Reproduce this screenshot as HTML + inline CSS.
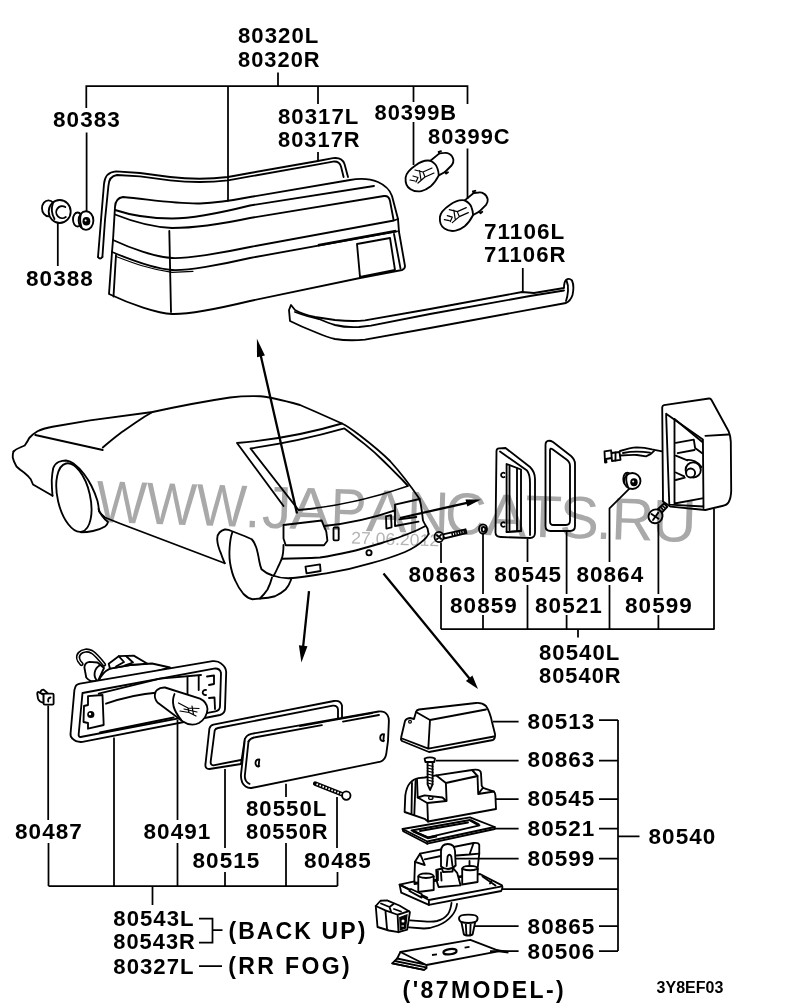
<!DOCTYPE html>
<html>
<head>
<meta charset="utf-8">
<title>Parts diagram 3Y8EF03</title>
<style>
html,body{margin:0;padding:0;background:#fff;}
body{width:800px;height:1008px;overflow:hidden;font-family:"Liberation Sans",sans-serif;}
svg{display:block;font-family:"Liberation Sans",sans-serif;}
.t{font-size:22.5px;font-weight:bold;letter-spacing:1.05px;fill:#000;}
.tb{font-size:23px;font-weight:bold;letter-spacing:2.1px;fill:#000;}
.ld{stroke:#000;stroke-width:1.75;fill:none;stroke-linecap:butt;}
.p{stroke:#000;stroke-width:1.85;fill:none;stroke-linecap:round;stroke-linejoin:round;}
.pw{stroke:#000;stroke-width:1.85;fill:#fff;stroke-linecap:round;stroke-linejoin:round;}
.c{stroke:#000;stroke-width:1.85;fill:none;stroke-linecap:round;stroke-linejoin:round;}
.cw{stroke:#000;stroke-width:1.5;fill:#fff;stroke-linecap:round;stroke-linejoin:round;}
.th{stroke:#000;stroke-width:1.2;fill:none;stroke-linecap:round;stroke-linejoin:round;}
.k{fill:#000;stroke:none;}
</style>
</head>
<body>
<svg width="800" height="1008" viewBox="0 0 800 1008">
<rect x="0" y="0" width="800" height="1008" fill="#fff"/>


<!-- CAR -->
<g id="car">
<!-- front wheel -->
<path class="c" d="M98.6,509 C99.5,513 104,519 108,522 C107.5,524 106.5,525.5 105,526.5 C101,529 97,530.3 93,531 C89,531.8 85,532.2 81,532.2"/>
<ellipse class="c" cx="73.9" cy="497.6" rx="16.2" ry="35" transform="rotate(-13 73.9 497.6)"/>
<!-- rear wheel -->
<path class="c" d="M232.25,532.5 C229.5,540 228.8,555 230,562.5 C231.5,572 233,576 235.25,580.5 C238,587 241,591 243.5,594 C246.5,597 249.5,598.7 252.5,599.25 L260,598.5 C263,595.5 265.5,592.5 267.5,589.5 C269.5,585.5 271,581.5 272,577.5"/>
<path class="c" d="M260,598.5 C265,598.3 270,597.8 275,596.25 C279,594.5 282.5,592.2 285.5,589.5 C287.8,587 289.5,584 290.75,580.5 L291.5,578.25"/>
<!-- top silhouette -->
<path class="c" d="M13.5,451.5 C15.5,449.5 17.5,448.5 19.5,447.75 L24.75,445.5 C26.5,443 28,440.5 29.25,438 C32,435 34.5,433 37.5,431.25 C42,429 47,427.8 52.5,426.75 L90,420.3 L152.5,412 C180,406 210,400.5 230,397.5 C242,396 252,396 260,396.25 C270,396.8 282,400 300,405 L315,411.5 L342,423.5 C349,427 354,431 360,435.5 C371,444 381,452 390,461 C400,472 410,485 419.6,499 C421.5,506 422,513 423,520.5 C424.5,524 426.5,526.5 427.5,528.4 L428.6,534"/>
<path class="c" d="M35.25,435 L102.75,450 M102.75,447.5 C108,443 114,438 120,433.5 C125,430 132,425 138,421 C143,417.5 148,414.5 152.5,412"/>
<path class="c" d="M13.5,451.5 C12.7,453.5 12.5,455.5 12.75,457.5 C13.5,461 15,464 16.5,466.5 C19,469 21.5,470.8 24,472.5 C26.5,474.5 29,476.8 30.75,479.25 L33,484.5 L52.5,495.75"/>
<path class="c" d="M52.5,495.75 C52,490 51.7,485 51.75,480 C52,475.5 52.5,471.5 53.25,468 C54.5,465 56.3,463 58.5,462 C61,461 63.5,460.5 66,460.5 C69,461 71.5,462 73.5,463.5 C77.5,466.5 81,470 84,474 C87,478 89.5,482 91.5,486 C94,491 96,496 97.5,501 C98.3,504.5 98.8,508 99,511.5 C101,513.8 103,515.8 105,517.5 L120,523.5 L224.75,563.25"/>
<path class="c" d="M224.75,563.25 C223.5,560 222,557 221,553.5 C219,549 217.5,544.5 217.25,540 C217,536.5 218,534 219.5,532.5 C221,531 223,530 224.75,529.5 C227,529.3 229.5,530 231.5,531 L245,536.25 L251.75,539.25 C254,541.5 255.2,544.5 256.25,547.5 C257.7,552 258.5,556.5 259.25,561 C259.8,564 260.5,567 261.5,569.25 C264.5,572 268,574 272,575.25 C278,577.5 284,578.5 290,578.25"/>
<!-- hatch / glass -->
<path class="c" d="M342,423.5 Q290.5,438.8 237,443 L283.5,506"/>
<path class="c" d="M344.4,428.4 Q297,441.8 250.5,448.4 L298.5,510 Q352,505.5 408,486 L402.5,480 C396,473.5 390,467.5 383.75,461.25 C378,455.5 372,450 365,444.4 C357,438 350,432.5 344.4,428.4 Z"/>
<path class="c" d="M324,526 Q360,522.5 395,510.4"/>
<!-- left tail lamp -->
<path class="c" d="M283.5,525 L321.7,520.5 L326.3,531.7 L327.4,540.7 L324,545.2 L285.7,545.2 L283.5,538.5 Z"/>
<path class="c" d="M283.5,545 C283.5,551 283,555 281.75,558.75 C280.5,561.5 279.3,564.3 278,567 C276.5,570.5 275,573.5 273.5,576"/>
<!-- license lamps -->
<rect class="c" x="333.5" y="527.5" width="5.2" height="12.8" rx="1"/>
<path class="c" d="M386,516.3 L391,515.2 L391.6,527.4 L386.4,528.6 Z"/>
<!-- right tail lamp -->
<path class="c" d="M395,504.7 L419.6,499 M395,504.7 L395,526 L418.5,521.6 M399.4,519.4 L416.3,517"/>
<!-- bumper -->
<path class="c" d="M281.75,558.75 C295,558.6 308,558.2 320,557.5 C330,556 340,554 350,551.75 C360,549.5 370,546.5 380,543.5 C388,541 396,538.5 402.5,536 C408,534 413,532 417.5,530 L425,526.25"/>
<path class="c" d="M290,578.25 C304,577 315,575 326.3,573.4 C342,571 357,567.5 371.3,563.2 C383,560 394,556.5 405,552 C412,549 418,545.5 423,540.7 C425.5,538.5 427.5,536.5 428.6,534"/>
<path class="c" d="M305.5,566.6 L320,564.4 L320.6,571 L306.5,573.4 Z"/>
<circle class="c" cx="369" cy="552.7" r="2.6"/>
</g>

<!-- TOP LAMP -->
<g id="toplamp">
<!-- gasket 80317 -->
<path class="p" d="M98,257 L101,220 L104,184 Q105,172 116,171.3 L140,173 L170,177 Q200,180.5 228,177 L250,173 L318,161 L333,158.2 Q342,157 344.5,164 L348,177"/>
<path class="p" d="M102.4,257 L105,220 L108.4,186 Q109,176 117,175 L140,176.4 L170,180.3 Q200,183.7 228,180.3 L250,176.4 L318,164.4 L333,161.6 Q339.5,161 341,166.5 L343.6,177"/>
<path class="p" d="M98,257 Q100,260 102.4,257"/>
<!-- lamp body -->
<path class="pw" d="M113,240 L115,207 Q115.5,198 123,197 C150,199.5 175,204 200,203.5 C215,203 232,200.5 250,197 L350,180 Q366,177 378,182 Q389,187 392,196 L398,219 L399,232 L405,266 Q405,269 402,270 L360,278 L250,301 C225,307 190,314.6 172,314 C158,313.5 130,304 109,294 L112,252 Z"/>
<path class="p" d="M115,210 C130,215 150,218.5 172,218.5 C195,218.5 222,212.5 250,205.5 L374,186"/>
<path class="p" d="M115,214.5 C130,220.5 150,227 172,228 C195,228 222,224 250,218 L384,196 Q389,195.5 390,201 L393.5,219.5"/>
<path class="p" d="M113,240 C130,248 155,257 172,258 C186,258.8 222,253 250,247 L394,220.5 L398,219"/>
<path class="p" d="M112,252 C130,259.5 155,268.8 172,270 C186,271 222,264.5 250,258 L397,231.3"/>
<path class="th" d="M116,256.5 C133,263 150,269.5 172,272.3 L193,271.3" stroke="#555"/>
<path d="M318,245.3 L396,231" stroke="#000" stroke-width="2.6" fill="none"/>
<path class="p" d="M116,255 L113.5,296.5"/>
<path class="p" d="M394,234 L400.5,268.5"/>
<path class="p" d="M169.3,231 L171,312"/>
<path class="p" d="M357,244 L390,238 L395,270 L360,277 Z"/>
<!-- grommet 80388 -->
<ellipse class="pw" cx="48.5" cy="208.3" rx="6.5" ry="8"/>
<ellipse class="pw" cx="59.7" cy="211.5" rx="11" ry="11.5" stroke-width="2.1"/>
<path class="p" d="M53,203 Q50,211 54.5,219"/>
<path class="p" d="M65.3,207 A6,6 0 1 0 65.8,217" stroke-width="1.5"/>
<!-- nut 80383 -->
<ellipse class="pw" cx="77.6" cy="219.5" rx="4.6" ry="7" stroke-width="2.1"/>
<ellipse class="pw" cx="86" cy="220.5" rx="7.4" ry="9.3" stroke-width="2.5"/>
<path class="p" d="M81,214 Q79,220 81.5,227"/>
<ellipse class="k" cx="86.4" cy="221.2" rx="3.9" ry="4.3"/>
<circle cx="85.6" cy="220.6" r="1" fill="#fff"/>
<!-- bulbs -->
<g>
<path class="pw" d="M430.4,160.75 C426,160 420,162 415.75,165.25 C411,168.5 406,173 405.6,177.6 C405.2,183 407,187 410.1,188.9 C414,191.5 418,191.8 421.4,191.1 C425,190.3 428,188.5 430.4,186.6 C433.5,184 436.5,180 438.8,175.4 L445,172 L451.75,165.25 Q453.8,162.5 453.4,159.6 Q452.5,155.5 449.5,154 Q447,152.5 444.4,152.9 L439.4,153.4 Z"/>
<path class="p" d="M430.4,160.75 Q436,163.5 437.3,168 Q438.6,171.5 438.8,175.4"/>
<path class="p" d="M439.4,153.4 l-0.8,-1.6 l2.4,-0.6 M445,172 l1.2,1.6 l1.8,-1.4" stroke-width="1.6"/>
<path class="th" d="M432,168 L423,172 L415,170 M434,173 L425,177 L418,183 M423,172 L425,177 M419.5,170.5 L421,180 M413,176 L418,177.5 L416,182 M410,180 L415,181"/>
</g>
<g transform="translate(34.3 39.6)">
<path class="pw" d="M430.4,160.75 C426,160 420,162 415.75,165.25 C411,168.5 406,173 405.6,177.6 C405.2,183 407,187 410.1,188.9 C414,191.5 418,191.8 421.4,191.1 C425,190.3 428,188.5 430.4,186.6 C433.5,184 436.5,180 438.8,175.4 L445,172 L451.75,165.25 Q453.8,162.5 453.4,159.6 Q452.5,155.5 449.5,154 Q447,152.5 444.4,152.9 L439.4,153.4 Z"/>
<path class="p" d="M430.4,160.75 Q436,163.5 437.3,168 Q438.6,171.5 438.8,175.4"/>
<path class="p" d="M439.4,153.4 l-0.8,-1.6 l2.4,-0.6 M445,172 l1.2,1.6 l1.8,-1.4" stroke-width="1.6"/>
<path class="th" d="M432,168 L423,172 L415,170 M434,173 L425,177 L418,183 M423,172 L425,177 M419.5,170.5 L421,180 M413,176 L418,177.5 L416,182 M410,180 L415,181"/>
</g>
<!-- trim 71106 -->
<path class="pw" d="M291,305 L289,310 L290,321 C298,325 306,328.5 315,332 C322,335 328,337.5 335,339 C345,340.5 355,340.5 365,339.6 L430,328 L566,303 Q570.5,301 572.5,295 Q574.5,286 572,280.5 Q569,277.5 566,280 Q564,282 564,288 L534,293 L522,292 L430,309 L365,320.4 C355,321.5 345,321 335,320 C328,319 322,318 315,317 C308,315.5 300,313 295,310 Z"/>
<path class="p" d="M295,312 C303,315 311,317.5 319,319 C325,321.5 330,323.5 335,325 C343,327 351,327.5 359,327 L371,325.6 L430,314 L530,296 L564,290.5"/>
<path class="p" d="M566.5,280.5 Q568.5,285 568,291 Q567.5,297 566,301"/>
</g>

<!-- RIGHT PARTS -->
<g id="rightparts">
<!-- screw 80863 -->
<path class="pw" d="M443,534.3 L465.5,529.3 L466.5,533.2 L444,538.5 Z"/>
<path d="M451.5,534.6 L466,531.3" stroke="#000" stroke-width="3.4" stroke-dasharray="1.5 1" fill="none"/>
<ellipse class="pw" cx="439" cy="537" rx="4.5" ry="5.1" stroke-width="2.2"/>
<path class="p" d="M436.8,535 l4.4,4 M441,534.8 l-4,4.4" stroke-width="1.5"/>
<!-- washer 80859 -->
<ellipse class="pw" cx="483" cy="529" rx="4" ry="4.7" stroke-width="2"/>
<ellipse class="p" cx="483.6" cy="529.4" rx="1.8" ry="2.4" stroke-width="1.4"/>
<!-- lens 80545 -->
<path class="pw" d="M496.5,451 Q496.5,448.5 499,448.3 L505.5,448 L530,467 Q535,472 535,479 L535,532.5 Q535,538 530,538 L501,537 Q495.5,537 495.5,532.5 Z"/>
<path class="p" d="M500,451.5 L527,470.6 Q530,474 530,483 L530,535"/>
<path class="p" d="M506.6,532 L506.6,464 L521,469.5 L521,531 Z"/>
<path class="p" d="M509.5,466 V530 M517,468.5 V531 M506.6,532 L521,531"/>
<path class="p" d="M504.5,473 A2.3,2.3 0 1 0 504.5,477 M504.5,522.5 A2.3,2.3 0 1 0 504.5,526.5" stroke-width="1.4"/>
<!-- gasket 80521 -->
<path class="pw" d="M545.5,445 Q545.5,441 549,440.7 Q551,440.7 553,442 L571,456 Q575,459.5 575,464 L575,526 Q575,531 570,531 L550.5,531 Q545.5,531 545.5,526 Z"/>
<path class="p" d="M550,450.5 Q550,447.5 552.5,449.3 L566.5,459.5 Q570,462 570,466 L570,520.5 Q570,525 566,525 L553.5,525 Q550,525 550,521.5 Z"/>
<!-- wire -->
<path class="p" d="M620,451 C626,449 632,447.5 637,447.3 C643,447.3 648,448.3 652,449.4 L662,451.3" stroke-width="2.2"/>
<path class="p" d="M620,455.5 C628,455 634,454.8 637,455 L646,456.3 C650,455 652.5,453 654,451" stroke-width="2.2"/>
<path class="p" d="M623,453 C630,451.5 640,451 650,452.7"/>
<path class="pw" d="M604.5,451.3 L611,450.3 L611.5,453 L619.5,452 L620.5,459.8 L612,461 L611.6,458 L606,459 L606.5,462.3 L605,462.5 Z" stroke-width="2.2"/>
<path class="p" d="M611.5,453 L611.6,458 M615.5,452.5 V460.5"/>
<!-- nut 80864 -->
<ellipse class="pw" cx="627.3" cy="479" rx="4" ry="6.3" stroke-width="2.2"/>
<ellipse class="pw" cx="632.3" cy="481" rx="8.2" ry="8" stroke-width="2.2"/>
<path class="p" d="M627,474.5 Q625,480 628,487"/>
<ellipse class="k" cx="634" cy="482.3" rx="3.7" ry="4"/>
<circle cx="633.2" cy="481.6" r="1" fill="#fff"/>
<!-- screw 80599 -->
<path class="pw" d="M658,509 L664,503.3 L667.3,506.8 L661.5,513 Z"/>
<path d="M659.8,511 L665.7,505" stroke="#000" stroke-width="4.4" stroke-dasharray="1.5 1" fill="none"/>
<ellipse class="pw" cx="655.5" cy="516.3" rx="7.2" ry="6.8" transform="rotate(-40 655.5 516.3)" stroke-width="2.3"/>
<path class="p" d="M651.5,514 l7,4.8 M658.3,512.6 l-5.3,7.4" stroke-width="2.2"/>
<!-- housing -->
<path class="pw" d="M662.2,407.4 Q662.4,405.5 664,405.2 L709,398.5 Q710.6,398.3 711.5,400 L728.6,431.2 Q730.6,436 730.8,441.6 L731.2,490.6 Q731,498 728.6,502.2 Q727,505 722.2,506 L705.4,510 L670.6,506.7 L663,501.5 Z"/>
<path class="p" d="M666.1,413.8 L702.9,439.6 L703.5,508 M666.1,413.8 L669.3,504.7 L703.5,506.5"/>
<path class="p" d="M674.5,419 L674.5,503.5 L702.2,498.3 M674.5,419 L702,441.8"/>
<path class="p" d="M705.4,435.8 L728.6,434.5"/>
<path class="p" d="M675.8,442.9 L693.8,439.6 L695.1,448 L702.2,453.2 M677.7,453.2 L694.5,450 M675.8,455.7 L687.4,460.3"/>
<path class="p" d="M687.5,460 C692,459.5 698,462 701.5,467"/>
<circle class="pw" cx="693.2" cy="469.9" r="7.6"/>
<circle class="pw" cx="690.6" cy="473" r="4.5"/>
<path class="p" d="M675.8,472.5 L684.2,476.4 M675.8,480 L684.8,477.7"/>
</g>

<!-- FOG LAMP -->
<g id="foglamp">
<!-- clip 80487 -->
<path class="pw" d="M43.7,695 L39,692.2 Q37,691.5 37.3,694 L38,698.5 Q39,702 43.7,702.8 Z" stroke-width="2.2"/>
<path class="pw" d="M40.3,692.8 Q40.8,689.6 43.5,689.6 L46.3,692 L48,693.6 L43.6,694 Z" stroke-width="2.2"/>
<rect class="pw" x="43.6" y="693.6" width="10" height="11" rx="1.2" stroke-width="2.3"/>
<path class="p" d="M50.5,697.5 Q47.5,698 48.3,701.5" stroke-width="1.6"/>
<!-- socket and wire at top -->
<path d="M81.5,664 C78,660.5 77,656.5 79.5,653.5 C82.5,650 88,649.8 92,652 C96,654.5 100,659.5 104,664.5" stroke="#000" stroke-width="4.4" fill="none" stroke-linecap="round"/>
<path d="M81.5,664 C78,660.5 77,656.5 79.5,653.5 C82.5,650 88,649.8 92,652 C96,654.5 100,659.5 104,664.5" stroke="#fff" stroke-width="1.1" fill="none" stroke-linecap="round"/>
<path class="pw" d="M84.4,667.5 C84.5,664.5 86.5,662.3 89.5,661.8 L97.5,662.5 L104,668 L98,681 L91.25,681.25 C88.5,680 87,678.5 86.25,677.5 Z"/>
<path class="p" d="M96.9,680.5 C93,676 94,669 99.5,665.5"/>
<!-- rear of housing -->
<path class="pw" d="M98.7,681.3 C101,675 105,671 110,668.7 L130,665 L152,663.5 L170,667.5 L140,676 Z"/>
<path class="pw" d="M108.7,663.7 L118.7,656.2 L133.7,655.6 L147.5,663.7 L130,665 L110,668.7 Z"/>
<path class="p" d="M118.7,656.2 L124,662 L116,666.5 M126,656 L133,662.5 L124.5,665.5"/>
<!-- outer frame -->
<path class="pw" d="M75.6,686.3 Q76.5,684.3 80,683.7 L212.5,661.2 Q218,660.6 221.3,663.7 Q226,667 226.2,672 L225,708.5 Q225,713.5 220,715 L82.5,741.9 Q76,742.5 72.5,738.7 Q70,736.5 70.6,733 L74.4,690 Z"/>
<path class="p" d="M82.5,693 L214,668.6 Q220,668 221,673 L220,706 Q220,710.5 215.5,711.3 L80.6,737 Q78.3,737 78.7,734 Z"/>
<path class="p" d="M98.7,693.7 L160,678.7 L201,675"/>
<!-- left bracket -->
<path class="p" d="M88,696.2 L102.5,695 L103.7,725 L88,728.7 L88,723 L83.5,722 L84,706 L88,705 Z"/>
<circle class="k" cx="90.8" cy="714.5" r="3.6"/>
<circle cx="90" cy="714" r="1.2" fill="#fff"/>
<path class="p" d="M106,703.7 C125,697 145,693.5 158,692.5"/>
<path class="p" d="M100,732.5 L173.7,717.5"/>
<!-- right bracket -->
<path class="p" d="M187.5,677.5 V693.7 M198.7,676 V690 M206,690 A2.6,2.6 0 1 0 206,695 M207,676.5 L214,675.5 L214,684 L209,685 M209,698 L214.5,697.5 L215,709"/>
<!-- bulb 80491 -->
<path class="pw" d="M157,690 Q160,687.3 165,687.5 L200,698.7 Q207,702 207.5,709 Q207,718 199,723 Q191,727 182.5,721.2 L157.5,702.5 Q154,698 155,694 Q155.5,691 157,690 Z"/>
<path class="p" d="M174.5,694 Q169.5,706 181,719.5"/>
<path class="th" d="M178.5,703 L188,708 L199,708.5 M180,711 L189,712.5 L196,716 M188,708 L189,712.5 M192,706 L193.5,714.5 M184,709 L197,712"/>
<!-- gasket 80515 -->
<path class="pw" d="M209.4,728.5 Q210.5,725.3 213.4,724.6 L334,701 Q340.5,700 342,705.5 L342,720 L244.9,739 L241,764 L209.4,769 Q204.8,769 205.5,764 Z"/>
<path class="p" d="M214.7,730.5 Q215.3,728.5 218,728 L332.8,705.7 Q337.5,705.3 338,709.5 L338,719 M214.7,730.5 L210.7,761.4 Q210.3,765 213.4,765.3 L241,760"/>
<!-- lens 80550 -->
<path class="pw" d="M244.9,739 Q246.5,734.8 251.4,733.8 L378.7,711.5 Q385,711 387.6,715.4 Q389.2,718 388.8,723 L388,741 L386.3,753.7 Q385.3,760 380.5,761.7 L251.4,788 Q245,788.4 242.2,782.4 Q240.7,778 241,774.5 Z"/>
<path class="p" d="M248.5,741.5 Q250,738.5 254,737.5 L321.9,725.2"/>
<path class="p" d="M343,721.6 L379,715"/>
<path class="p" d="M300,726.2 L372,713.2" stroke-width="1.2"/>
<path class="p" d="M248.5,741.5 L244.8,776 Q244.8,782 249.5,783.8"/>
<path class="p" d="M259.3,760 A2.6,3.4 0 1 0 259.3,766 M259.3,759.5 L258.6,766.5 M384,734.7 A2.6,3.4 0 1 0 384,740.7 M384,734.2 L383.3,741.2" stroke-width="1.5"/>
<!-- screw 80485 -->
<path d="M315.2,783.6 L343,794.6" stroke="#000" stroke-width="4.6" fill="none" stroke-linecap="round"/>
<path d="M316.5,784.1 L342,794.2" stroke="#fff" stroke-width="1.8" fill="none" stroke-dasharray="1.6 1.6"/>
<circle class="pw" cx="346.3" cy="795.6" r="4.2" stroke-width="2.4"/>
</g>

<!-- LICENSE LAMP -->
<g id="liclamp">
<!-- cover 80513 -->
<path class="pw" d="M416,712 Q416.5,710 419,709.5 L476,703 Q482,702.5 486,706 Q490,712 492,722 L495,734 Q495.5,738.5 493,740 L429,752 L402,741 Q400.5,739.5 401,738 L405,721 Q406,718.5 410,718 L414,719 Z"/>
<path class="p" d="M416,712 L430,720 L486,709.5 M430,720 L428.3,748.5 M402,738.5 L428.3,748.7 L494,736.5"/>
<circle class="th" cx="410" cy="721.7" r="1.4"/>
<!-- lens 80545 -->
<path class="pw" d="M404.6,812 L405.3,795.4 Q406.5,787 410,783 Q413.5,779 418.4,778.2 L424.6,777.5 L436.3,775.4 L472,770 Q477,769 479.5,770.5 Q481,771.5 481,773.5 L481.7,785.8 L483,787.8 L493.3,791.3 Q495.3,792.5 495.4,795.4 L496,809 L428,821.5 L424.6,818.8 Z"/>
<path class="p" d="M412,783 L411.5,813.5" stroke-width="2.2"/>
<path class="p" d="M415.6,781 L414.3,814.5"/>
<path class="p" d="M417,779.6 L417.7,797.5 L427.3,803 L428,821.5"/>
<path class="p" d="M417.7,797.5 L424.6,795.4 L442.5,797.5 L446.3,801 L427.3,803"/>
<path class="p" d="M436.3,775.4 L445.9,783 L477.5,776 M445.9,783 L446.6,800.9 M450,782 L476,776.5"/>
<path class="p" d="M472,770 L477.5,776 L478.2,794 L483,787.8 M478.2,794 L494,791.5"/>
<ellipse class="th" cx="430.8" cy="797.9" rx="2.2" ry="1.4"/>
<!-- screw 80863 -->
<path class="pw" d="M427.6,762 H432.6 V784.4 L430,790 L427.6,784.4 Z"/>
<path class="th" d="M427.2,765 l5.8,1.3 M427.2,768 l5.8,1.3 M427.2,771 l5.8,1.3 M427.2,774 l5.8,1.3 M427.2,777 l5.8,1.3 M427.2,780 l5.8,1.3 M427.4,783 l5.4,1.3"/>
<path class="pw" d="M424.6,758.5 Q430,756.2 435,758.5 L434.3,762 H425.4 Z" stroke-width="1.9"/>
<!-- gasket 80521 -->
<path class="pw" d="M402.6,829 L470,817.4 L494.7,827 L494.7,829 L427.3,843.7 L403.2,831.3 Z"/>
<path class="p" d="M402.6,829 L427.3,841.5 L494.7,827 M427.3,841.5 V843.7"/>
<path class="p" d="M411.5,830.5 L470,820 L479.5,825.3 L428,837.3 Z"/>
<path d="M413,831 L428,838 L437,836 M470.5,820.3 L479,825" stroke="#000" stroke-width="2.6" fill="none"/>
<path class="p" d="M420,831 L468,822.5"/>
<!-- socket/base assy: back wall -->
<path class="pw" d="M414.25,883 L415,861.8 L420,853.7 L473.6,843 Q478.5,842.5 479.25,844.75 L479.25,853.7 L477,874 Z"/>
<path class="p" d="M420,853.7 L424.8,865 L415,861.8 M424.8,859.4 L441,856 M473.6,843 L469.5,854.5 L479.25,853.7 M456.5,855.5 L469.5,854.5"/>
<!-- base plate -->
<path class="pw" d="M399.6,884.6 L414.5,881.3 L414.5,884 L480,874 L502,885.4 Q503,887 502,889 L501.2,891 L428.9,904.9 L401.25,892.7 Z"/>
<path class="p" d="M399.6,884.6 L428.9,900 L502,886.4 M428.9,900 V904.9"/>
<path class="p" d="M402,885.8 L427.3,897.6 M482.5,876.4 L495.5,885.4 M491.5,881 L490,883.5"/>
<path class="pw" d="M409.4,891 L411,889 L421.6,894 L421.6,897.6 Z"/>
<!-- posts -->
<path class="pw" d="M418.3,876.5 Q418.3,873.5 426,873.3 Q433.7,873.5 433.7,876.5 L433.7,890 L418.3,892 Z"/>
<path class="p" d="M418.3,876.5 Q426,879.5 433.7,876.5"/>
<path class="pw" d="M462.2,868.8 Q462.2,866 470,865.8 Q477.6,866 477.6,868.8 L477.6,882 L462.2,884.5 Z"/>
<path class="p" d="M462.2,868.8 Q470,871.8 477.6,868.8 M469.5,861 V866"/>
<path class="pw" d="M436.2,870 L442,868.5 L443,872 L452.5,871.5 L453,868 L457.3,873.2 L460.6,885.4 L438.6,887 L437,882 Z"/>
<path d="M437.5,870.5 V881" stroke="#000" stroke-width="2.6" fill="none"/>
<path class="p" d="M441,872.5 L441.5,880.5"/>
<!-- bulb -->
<path class="pw" d="M441,866.5 L441,851.2 Q441.3,844 447.8,844 Q454.6,844 455,851 L455.7,865.5 Q452,869 448,869 Q444,869 441,866.5 Z"/>
<path class="p" d="M446.7,866 L447.6,856.5 Q449.5,853 451.3,856.5 L452.5,866"/>
<!-- wire and connector -->
<path class="p" d="M451.5,903 C451,907 450,911 448,914 C445,918 441,920 437,921 C433,921.8 428,921.6 424,921.3 L410,920.3 M457,904 C456.5,908 455,912 452,915.5 C448,920.5 443,923.5 438,925.5 C433,927.5 428,928.5 424,928.5 L409,927.3" stroke-width="2.3"/>
<path class="pw" d="M375.75,906 L380.5,900.75 L387,900.3 L399.4,905.5 L409,911.2 L409.9,912.1 L407.2,929.6 L398.5,932.2 L388.9,930.5 L377.5,927 Z" stroke-width="2.3"/>
<path class="p" d="M375.75,906 L385.4,910.4 L397.6,914.75 L409,911.2 M385.4,910.4 L387,928.75 M397.6,914.75 L398.5,932.2" stroke-width="2.2"/>
<path class="p" d="M381,903.5 L389.5,907 L393.5,904 M389.5,907 L391,911.5 M394,909 L401,911.5"/>
<path d="M399.8,917.5 L407,914.8 L405.6,928 L400.3,930 Z" fill="#000" stroke="#000" stroke-width="1.2"/>
<circle cx="403" cy="921" r="1.5" fill="#fff"/>
<path d="M401.5,926 h2.5" stroke="#fff" stroke-width="1.2"/>
<!-- push clip 80865 -->
<path class="pw" d="M459,918 Q459,914.6 468.5,914.6 Q477.6,914.6 477.6,918 Q477.6,921 475.2,922 L472.7,934 Q472,935.5 468.3,935.5 Q464.5,935.5 463.8,934 L461.4,922 Q459,921 459,918 Z"/>
<path class="p" d="M461.4,922 Q468.3,924 475.2,922 M465.8,923.5 L466.4,935 M470.6,923.5 L470.2,935"/>
<!-- plate 80506 -->
<path class="pw" d="M400.4,952 L470.3,939.8 L499.6,951.2 L426.4,965 L426.6,968 L424,969.9 L392.3,963.4 L397.2,958.5 Z"/>
<path class="p" d="M400.4,952 L426.4,965 M397.2,958.5 L426.6,964.8 M394.8,961 L426,967.3 M392.3,963.4 L424,969.9"/>
<ellipse cx="450" cy="951.7" rx="6.6" ry="2.6" transform="rotate(-8 450 951.7)" fill="#fff" stroke="#000" stroke-width="2.2"/>
<path d="M432,955 L437,954.3 M464.6,947.6 L469.5,946.9" stroke="#000" stroke-width="1.8" fill="none"/>
<path d="M497,950.6 L508.5,952.2" stroke="#000" stroke-width="2.6" fill="none"/>
</g>

<!-- ARROWS -->
<g id="arrows">
<path d="M297,513.5 L260.5,354.5 M400,518 L467,502.8 M309,591.2 L303.2,646 M383.5,573.5 L469.5,678.6" stroke="#000" stroke-width="2.3" fill="none"/>
<path class="k" d="M256.9,338.7 L264.9,355.4 L257,357.2 Z"/>
<path class="k" d="M481,499.5 L467.3,506.4 L465.5,499.6 Z"/>
<path class="k" d="M301.4,662.6 L298.9,645.2 L307.5,646.2 Z"/>
<path class="k" d="M478,689 L465.9,680.9 L472.4,675.6 Z"/>
</g>
<!-- LEADERS -->
<g id="leaders" class="ld">
<!-- top group -->
<path d="M86.6,211.3 V132.5 M86.3,108 V86 H467.5 V104 M467.5,148.5 V199"/>
<path d="M278,72.5 V86 M228,86 V201.5 M318,86 V104 M318,152 V161 M413.5,86 V102 M413.5,122 V165"/>
<path d="M57.8,223 V266"/>
<path d="M522.8,268 V292"/>
<!-- right-middle group -->
<path d="M441,629.2 H714.5"/>
<path d="M441,542.6 V563 M441,585 V629.2 M483,533.6 V594 M483,615 V629.2 M527.5,539 V562 M527.5,585 V629.2 M566.6,531 V594 M566.6,615 V629.2 M629.4,488.7 L609.5,508.4 V562 M609.5,585 V629.2 M658.4,523.4 V594 M658.4,615 V629.2 M714,508.4 V629.2 M578,629.2 V637.5"/>
<!-- license lamp group -->
<path d="M618,720 V951"/>
<path d="M599,720 H618 M599,760.5 H618 M599,799 H618 M599,828.6 H618 M599,858.6 H618 M599,926 H618 M599,951 H618 M618,836.4 H639.5"/>
<path d="M493,721.5 H518.6 M436,760.5 H518.6 M495,799 H518.6 M495,828.6 H518.6 M455,858.6 H518.6 M502,889 H618 M474,926 H518.6 M490,951 H518.6"/>
<!-- fog lamp group -->
<path d="M48.5,886 H337.5 M48.2,705.5 V820 M48.5,843 V886 M114,737.6 V886 M177.5,719.7 V820 M177.5,843 V886 M225,769 V848 M225,872 V886 M286,783.7 V797 M286,843 V886 M337,797 V848 M337.5,872 V886 M152.5,886 V905"/>
<path d="M199,918.5 H212.5 V942.5 H199 M212.5,930 H222.5 M199,966 H222"/>
</g>

<!-- LABELS -->
<g id="labels">
<text class="t" x="238" y="43.4" textLength="81.3" lengthAdjust="spacingAndGlyphs">80320L</text>
<text class="t" x="238" y="66.5" textLength="82.6" lengthAdjust="spacingAndGlyphs">80320R</text>
<text class="t" x="53" y="127">80383</text>
<text class="t" x="278" y="124" textLength="81.3" lengthAdjust="spacingAndGlyphs">80317L</text>
<text class="t" x="278" y="147" textLength="82.6" lengthAdjust="spacingAndGlyphs">80317R</text>
<text class="t" x="374.5" y="119.6" textLength="82.6" lengthAdjust="spacingAndGlyphs">80399B</text>
<text class="t" x="428" y="144" textLength="82.6" lengthAdjust="spacingAndGlyphs">80399C</text>
<text class="t" x="484" y="238.8" textLength="81.3" lengthAdjust="spacingAndGlyphs">71106L</text>
<text class="t" x="484" y="262" textLength="82.6" lengthAdjust="spacingAndGlyphs">71106R</text>
<text class="t" x="26" y="286">80388</text>
<text class="t" x="408.5" y="581.6">80863</text>
<text class="t" x="494.3" y="581.6">80545</text>
<text class="t" x="576.4" y="581.6">80864</text>
<text class="t" x="450" y="613">80859</text>
<text class="t" x="535" y="613">80521</text>
<text class="t" x="625" y="613">80599</text>
<text class="t" x="539" y="660" textLength="81.3" lengthAdjust="spacingAndGlyphs">80540L</text>
<text class="t" x="539" y="683.4" textLength="82.6" lengthAdjust="spacingAndGlyphs">80540R</text>
<text class="t" x="527.6" y="729">80513</text>
<text class="t" x="527.6" y="767.4">80863</text>
<text class="t" x="527.6" y="805.5">80545</text>
<text class="t" x="527.6" y="835.5">80521</text>
<text class="t" x="527.6" y="865.5">80599</text>
<text class="t" x="648.5" y="843.6">80540</text>
<text class="t" x="527.6" y="933.5">80865</text>
<text class="t" x="527.6" y="959">80506</text>
<text class="t" x="15" y="839">80487</text>
<text class="t" x="143.5" y="839">80491</text>
<text class="t" x="246" y="816" textLength="81.3" lengthAdjust="spacingAndGlyphs">80550L</text>
<text class="t" x="246" y="839" textLength="82.6" lengthAdjust="spacingAndGlyphs">80550R</text>
<text class="t" x="192.5" y="867.5">80515</text>
<text class="t" x="304" y="867.5">80485</text>
<text class="t" x="113.3" y="925.8" textLength="81.3" lengthAdjust="spacingAndGlyphs">80543L</text>
<text class="t" x="113.3" y="949" textLength="82.6" lengthAdjust="spacingAndGlyphs">80543R</text>
<text class="t" x="113.3" y="973.5" textLength="81.3" lengthAdjust="spacingAndGlyphs">80327L</text>
<text class="tb" x="228.4" y="938.7">(BACK UP)</text>
<text class="tb" x="228.3" y="973.7" textLength="123.5">(RR FOG)</text>
<text class="tb" x="402.6" y="998" textLength="163.2">('87MODEL-)</text>
<text x="656.6" y="992.6" font-size="16" font-weight="bold" fill="#000">3Y8EF03</text>
</g>
<!-- WATERMARK -->
<g id="wm" style="mix-blend-mode:multiply" fill="#a9a9a9" font-size="59.6" transform="rotate(1.925 96 522)">
<text transform="translate(95.73 522) scale(0.897 1)">W</text>
<text transform="translate(145.73 522) scale(0.897 1)">W</text>
<text transform="translate(195.73 522) scale(0.897 1)">W</text>
<text transform="translate(244.48 522) scale(0.926 1)">.</text>
<text transform="translate(261.56 522) scale(0.982 1)">J</text>
<text transform="translate(289.38 522) scale(1.025 1)">A</text>
<text transform="translate(330.11 522) scale(0.899 1)">P</text>
<text transform="translate(365.88 522) scale(1.025 1)">A</text>
<text transform="translate(406.16 522) scale(0.991 1)">N</text>
<text transform="translate(444.56 522) scale(0.967 1)">C</text>
<text transform="translate(484.88 522) scale(1.038 1)">A</text>
<text transform="translate(524.68 522) scale(1.008 1)">T</text>
<text transform="translate(559.28 522) scale(0.992 1)">S</text>
<text transform="translate(595.98 522) scale(0.926 1)">.</text>
<text transform="translate(611.16 522) scale(0.990 1)">R</text>
<text transform="translate(651.76 522) scale(1.034 1)">U</text>
</g>
<text style="mix-blend-mode:multiply" x="351" y="543.5" font-size="17" fill="#b4b4b4" textLength="88" lengthAdjust="spacingAndGlyphs" transform="rotate(1.9 351 543)">27.06.2012</text>
</svg>
</body>
</html>
